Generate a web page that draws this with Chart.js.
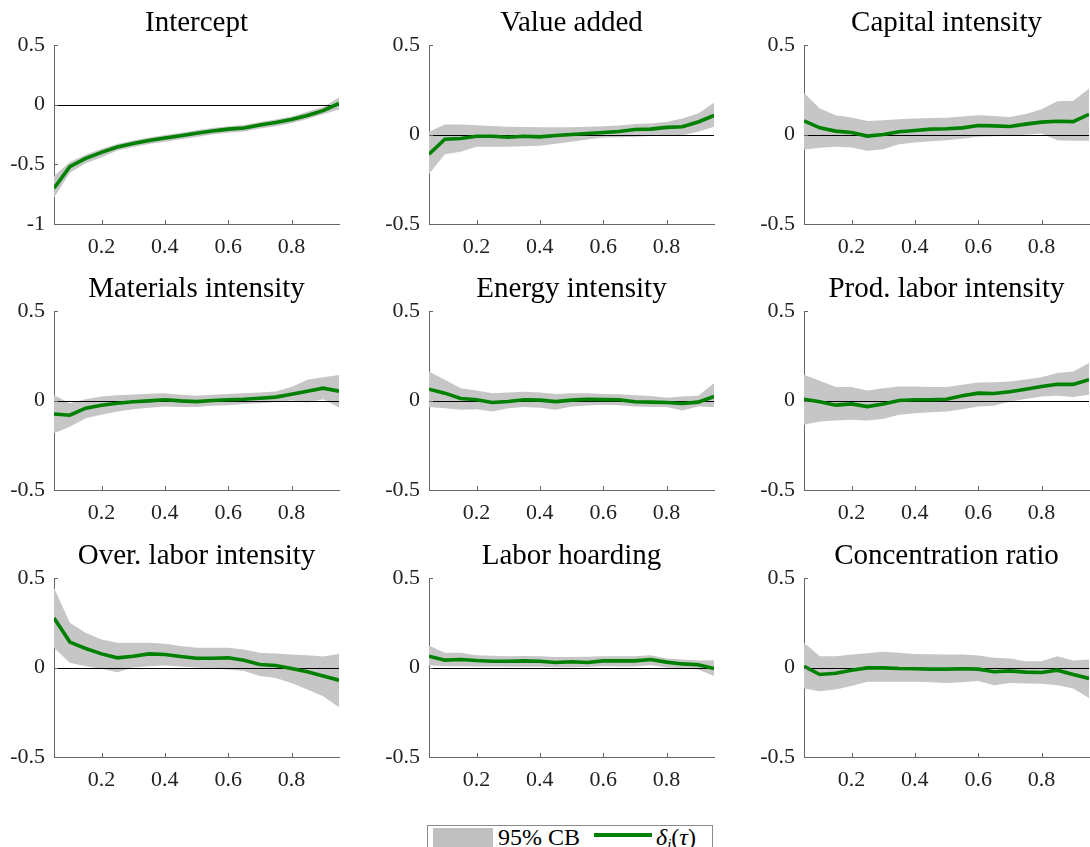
<!DOCTYPE html>
<html>
<head>
<meta charset="utf-8">
<script src="https://cdn.jsdelivr.net/npm/chart.js@4.4.1/dist/chart.umd.min.js"></script>
<style>
  html, body { margin: 0; padding: 0; background: #fff; }
  body { width: 1090px; height: 847px; position: relative; overflow: hidden; font-family: 'Liberation Serif', serif; }
  canvas { position: absolute; }
  #legend { position: absolute; left: 427px; top: 825px; width: 284px; height: 30px; border: 1px solid #8a8a8a; background: #fff; }
  #legend .sw { position: absolute; left: 5px; top: 2px; width: 60px; height: 19px; background: #c0c0c0; }
  #legend .t1 { position: absolute; left: 70px; top: -2px; font-size: 24px; line-height: 26px; color: #000; white-space: nowrap; }
  #legend .ln { position: absolute; left: 166px; top: 7px; width: 58px; height: 4px; background: #008000; }
  #legend .t2 { position: absolute; left: 228px; top: -2px; font-size: 24px; line-height: 26px; color: #000; white-space: nowrap; }
  #legend sub { font-size: 15px; vertical-align: -4px; line-height: 0; }
</style>
</head>
<body>
<div id="legend"><div class="sw"></div><span class="t1">95% CB</span><div class="ln"></div><span class="t2"><i>δ</i><sub><i>i</i></sub>(<i>τ</i>)</span></div>
<script>
// Quantiles (x values)
const quantiles = [0.05,0.10,0.15,0.20,0.25,0.30,0.35,0.40,0.45,0.50,0.55,0.60,0.65,0.70,0.75,0.80,0.85,0.90,0.95];
const xTicks = [0.2,0.4,0.6,0.8];
const yTicksIntercept = [-1,-0.5,0,0.5];
const yTicksDefault = [-0.5,0,0.5];

const panelTitles = ['Intercept','Value added','Capital intensity','Materials intensity','Energy intensity','Prod. labor intensity','Over. labor intensity','Labor hoarding','Concentration ratio'];

const interceptLine  = [-0.70,-0.52,-0.45,-0.40,-0.355,-0.325,-0.30,-0.28,-0.26,-0.24,-0.22,-0.205,-0.195,-0.17,-0.15,-0.125,-0.09,-0.05,0.01];
const interceptUpper = [-0.60,-0.48,-0.42,-0.37,-0.33,-0.30,-0.275,-0.255,-0.235,-0.215,-0.195,-0.18,-0.17,-0.145,-0.125,-0.10,-0.06,-0.02,0.06];
const interceptLower = [-0.78,-0.57,-0.49,-0.44,-0.385,-0.355,-0.33,-0.31,-0.29,-0.27,-0.25,-0.235,-0.225,-0.20,-0.18,-0.155,-0.12,-0.08,-0.04];

const valueAddedLine  = [-0.11,-0.026,-0.022,-0.01,-0.01,-0.015,-0.01,-0.013,-0.006,0,0.006,0.011,0.017,0.028,0.03,0.04,0.043,0.07,0.106];
const valueAddedUpper = [0.015,0.056,0.056,0.052,0.048,0.043,0.042,0.04,0.04,0.04,0.043,0.046,0.05,0.058,0.062,0.07,0.09,0.117,0.177];
const valueAddedLower = [-0.22,-0.11,-0.097,-0.069,-0.068,-0.069,-0.066,-0.063,-0.052,-0.04,-0.028,-0.017,-0.015,-0.013,-0.008,-0.004,-0.004,0.015,0.043];

const capitalLine  = [0.076,0.037,0.019,0.011,-0.009,0,0.015,0.022,0.03,0.032,0.037,0.05,0.048,0.045,0.058,0.069,0.074,0.072,0.113];
const capitalUpper = [0.232,0.145,0.108,0.095,0.076,0.08,0.085,0.089,0.092,0.093,0.1,0.108,0.104,0.098,0.115,0.141,0.186,0.188,0.256];
const capitalLower = [-0.084,-0.074,-0.069,-0.072,-0.091,-0.082,-0.054,-0.045,-0.038,-0.032,-0.024,-0.013,-0.01,-0.007,-0.002,0.006,-0.032,-0.035,-0.035];

const materialsLine  = [-0.075,-0.082,-0.043,-0.026,-0.015,-0.007,-0.002,0.004,-0.002,-0.006,0,0.004,0.007,0.013,0.019,0.035,0.052,0.069,0.052];
const materialsUpper = [0.03,-0.015,0.007,0.022,0.03,0.034,0.038,0.041,0.032,0.026,0.032,0.037,0.041,0.045,0.05,0.075,0.116,0.13,0.142];
const materialsLower = [-0.183,-0.146,-0.099,-0.08,-0.062,-0.049,-0.04,-0.034,-0.036,-0.037,-0.03,-0.026,-0.02,-0.015,-0.008,0,-0.011,0.007,-0.039];

const energyLine  = [0.063,0.041,0.011,0.004,-0.011,-0.006,0.004,0.002,-0.006,0.002,0.007,0.005,0.004,-0.007,-0.009,-0.011,-0.017,-0.009,0.022];
const energyUpper = [0.162,0.116,0.069,0.056,0.041,0.045,0.049,0.045,0.037,0.041,0.04,0.037,0.035,0.03,0.025,0.015,0.022,0.026,0.097];
const energyLower = [-0.037,-0.043,-0.052,-0.049,-0.062,-0.043,-0.037,-0.041,-0.052,-0.034,-0.028,-0.024,-0.026,-0.034,-0.036,-0.037,-0.056,-0.034,-0.037];

const prodLaborLine  = [0.007,-0.007,-0.026,-0.019,-0.034,-0.019,0,0.004,0.004,0.007,0.026,0.041,0.039,0.049,0.063,0.078,0.091,0.09,0.116];
const prodLaborUpper = [0.144,0.11,0.075,0.075,0.056,0.069,0.078,0.078,0.076,0.075,0.088,0.1,0.102,0.106,0.118,0.13,0.153,0.162,0.209];
const prodLaborLower = [-0.136,-0.118,-0.112,-0.108,-0.112,-0.104,-0.08,-0.071,-0.066,-0.062,-0.049,-0.034,-0.03,-0.006,0.008,0.022,0.026,0.019,0.032];

const overLaborLine  = [0.277,0.142,0.106,0.076,0.054,0.063,0.076,0.073,0.061,0.052,0.052,0.054,0.041,0.017,0.011,-0.006,-0.024,-0.047,-0.071];
const overLaborUpper = [0.445,0.25,0.194,0.156,0.138,0.138,0.138,0.132,0.12,0.11,0.11,0.11,0.1,0.082,0.078,0.073,0.069,0.061,0.076];
const overLaborLower = [0.11,0.026,0.007,-0.007,-0.026,0,0.007,0.011,0.005,0,-0.005,-0.011,-0.02,-0.048,-0.058,-0.086,-0.123,-0.16,-0.222];

const hoardingLine  = [0.063,0.041,0.045,0.039,0.035,0.035,0.037,0.035,0.028,0.032,0.028,0.037,0.037,0.037,0.045,0.03,0.02,0.015,-0.006];
const hoardingUpper = [0.123,0.082,0.082,0.069,0.065,0.063,0.064,0.063,0.058,0.058,0.06,0.063,0.063,0.063,0.069,0.05,0.045,0.039,0.041];
const hoardingLower = [0.013,0.007,0.007,0.006,0.005,0.004,0.004,0.004,0.002,0.002,0.003,0.007,0.006,0.006,0.013,0,-0.004,-0.011,-0.048];

const concentrationLine  = [0.007,-0.039,-0.032,-0.015,-0.002,-0.002,-0.006,-0.007,-0.009,-0.009,-0.007,-0.009,-0.024,-0.019,-0.026,-0.028,-0.015,-0.039,-0.061];
const concentrationUpper = [0.138,0.063,0.063,0.073,0.08,0.088,0.082,0.076,0.074,0.073,0.072,0.067,0.054,0.05,0.035,0.035,0.063,0.039,0.045];
const concentrationLower = [-0.117,-0.132,-0.123,-0.104,-0.08,-0.08,-0.08,-0.08,-0.083,-0.086,-0.082,-0.076,-0.099,-0.086,-0.09,-0.091,-0.099,-0.117,-0.17];

const panelData = [
  [interceptLine, interceptLower, interceptUpper],
  [valueAddedLine, valueAddedLower, valueAddedUpper],
  [capitalLine, capitalLower, capitalUpper],
  [materialsLine, materialsLower, materialsUpper],
  [energyLine, energyLower, energyUpper],
  [prodLaborLine, prodLaborLower, prodLaborUpper],
  [overLaborLine, overLaborLower, overLaborUpper],
  [hoardingLine, hoardingLower, hoardingUpper],
  [concentrationLine, concentrationLower, concentrationUpper]
];

// layout
const plotLefts = [54, 429, 804];
const plotTops = [44.7, 311.3, 578.3];
const Y_AXIS_W = 54, TITLE_H = 45, X_AXIS_H = 40, PLOT_W = 285, PLOT_H = 179, RIGHT_PAD = 2;

const FONT = "'Liberation Serif', 'Times New Roman', serif";
const AXIS_COLOR = '#666666';

const decorPlugin = {
  id: 'decor',
  beforeDatasetDraw(chart, args) {
    if (args.index !== 0) return;
    const ctx = chart.ctx, a = chart.chartArea, y = chart.scales.y.getPixelForValue(0);
    ctx.save();
    ctx.strokeStyle = '#000';
    ctx.lineWidth = 1;
    ctx.beginPath();
    ctx.moveTo(a.left, Math.round(y) + 0.5);
    ctx.lineTo(a.right, Math.round(y) + 0.5);
    ctx.stroke();
    ctx.restore();
  },
  afterDraw(chart) {
    const ctx = chart.ctx, a = chart.chartArea;
    const xs = chart.scales.x, ys = chart.scales.y;
    ctx.save();
    ctx.strokeStyle = AXIS_COLOR;
    ctx.lineWidth = 1;
    ctx.beginPath();
    xs.ticks.forEach(t => {
      const px = Math.round(xs.getPixelForValue(t.value)) + 0.5;
      ctx.moveTo(px, a.bottom); ctx.lineTo(px, a.bottom - 4);
    });
    ys.ticks.forEach(t => {
      const py = Math.round(ys.getPixelForValue(t.value)) + 0.5;
      ctx.moveTo(a.left, py); ctx.lineTo(a.left + 4, py);
    });
    ctx.stroke();
    ctx.restore();
  }
};

panelData.forEach((d, i) => {
  const row = Math.floor(i / 3), col = i % 3;
  const canvas = document.createElement('canvas');
  const w = Y_AXIS_W + PLOT_W + RIGHT_PAD, h = TITLE_H + PLOT_H + X_AXIS_H;
  canvas.width = w; canvas.height = h;
  canvas.style.width = w + 'px'; canvas.style.height = h + 'px';
  canvas.style.left = (plotLefts[col] - Y_AXIS_W) + 'px';
  canvas.style.top = (plotTops[row] - TITLE_H) + 'px';
  document.body.appendChild(canvas);
  const yTicks = i === 0 ? yTicksIntercept : yTicksDefault;
  const pts = arr => arr.map((v, k) => ({ x: quantiles[k], y: v }));
  new Chart(canvas, {
    type: 'line',
    data: {
      datasets: [
        { label: 'line', data: pts(d[0]), borderColor: '#008000', borderWidth: 3.6, pointRadius: 0, fill: false, order: 0, tension: 0 },
        { label: 'upper', data: pts(d[2]), borderWidth: 0, borderColor: 'rgba(0,0,0,0)', pointRadius: 0, fill: '+1', backgroundColor: '#c6c6c6', order: 1 },
        { label: 'lower', data: pts(d[1]), borderWidth: 0, borderColor: 'rgba(0,0,0,0)', pointRadius: 0, fill: false, order: 2 }
      ]
    },
    options: {
      responsive: false,
      animation: false,
      devicePixelRatio: 1,
      layout: { padding: { left: 0, right: RIGHT_PAD, top: 0, bottom: 0 } },
      plugins: {
        legend: { display: false },
        tooltip: { enabled: false },
        title: {
          display: true, text: panelTitles[i], fullSize: false,
          color: '#000', font: { family: FONT, size: 29, weight: 'normal', lineHeight: 1.2 },
          padding: { top: 6, bottom: 4.2 }
        }
      },
      scales: {
        x: {
          type: 'linear', min: 0.05, max: 0.95,
          afterBuildTicks: s => { s.ticks = xTicks.map(v => ({ value: v })); },
          afterFit: s => { s.height = X_AXIS_H; },
          grid: { display: false, drawTicks: false },
          border: { display: true, color: AXIS_COLOR, width: 1 },
          ticks: { color: '#222', padding: 10, font: { family: FONT, size: 22 }, callback: v => String(v), maxRotation: 0 }
        },
        y: {
          type: 'linear', min: yTicks[0], max: 0.5,
          afterBuildTicks: s => { s.ticks = yTicks.map(v => ({ value: v })); },
          afterFit: s => { s.width = Y_AXIS_W; },
          grid: { display: false, drawTicks: false },
          border: { display: true, color: AXIS_COLOR, width: 1 },
          ticks: { color: '#222', padding: 9, font: { family: FONT, size: 22 }, callback: v => String(v) }
        }
      }
    },
    plugins: [decorPlugin]
  });
});
</script>
</body>
</html>
